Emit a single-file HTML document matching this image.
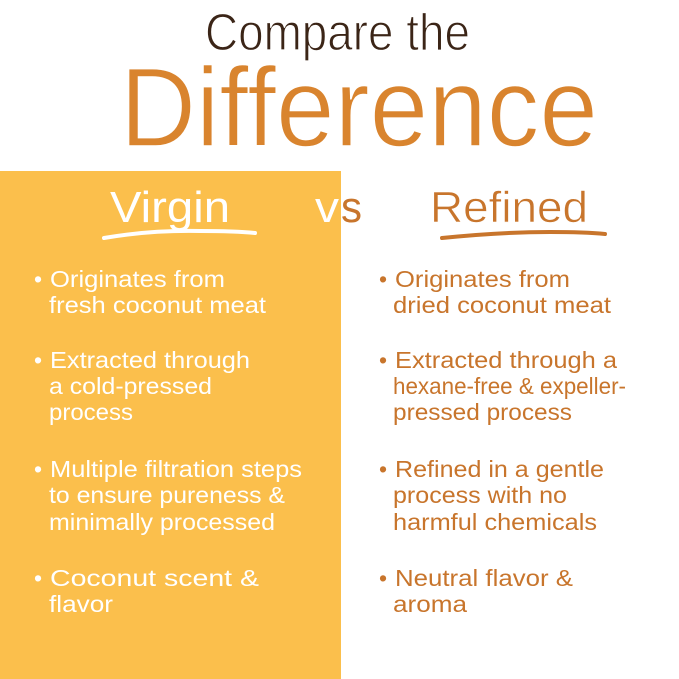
<!DOCTYPE html>
<html><head><meta charset="utf-8"><style>html,body{margin:0;padding:0;background:#fff}svg{display:block}</style></head>
<body>
<svg width="679" height="679" viewBox="0 0 679 679" xmlns="http://www.w3.org/2000/svg" font-family="Liberation Sans, sans-serif">
<rect x="0" y="171" width="341" height="508" fill="#fbbf4c"/>
<text x="205" y="50" font-size="52" fill="#3b2517" stroke="#fff" stroke-width="1.2" paint-order="normal" textLength="265" lengthAdjust="spacingAndGlyphs">Compare the</text>
<text x="120" y="146" font-size="112" fill="#d9842e" stroke="#fff" stroke-width="1.5" textLength="478" lengthAdjust="spacingAndGlyphs">Difference</text>
<text x="110" y="222" font-size="44" fill="#fff" textLength="120" lengthAdjust="spacingAndGlyphs">Virgin</text>
<text x="315" y="222" font-size="44" fill="#fff" textLength="24" lengthAdjust="spacingAndGlyphs">v</text>
<text x="341" y="222" font-size="44" fill="#c8752c" textLength="21" lengthAdjust="spacingAndGlyphs">s</text>
<text x="430" y="222" font-size="44" fill="#c8752c" stroke="#fff" stroke-width="0.6" textLength="158" lengthAdjust="spacingAndGlyphs">Refined</text>
<path d="M104 238 Q150 230 200 231 Q235 231 255 233" stroke="#fff" stroke-width="4" fill="none" stroke-linecap="round"/>
<path d="M442 238 Q500 232 550 232 Q585 232 605 234" stroke="#c8752c" stroke-width="4" fill="none" stroke-linecap="round"/>
<g font-size="23" fill="#fff">
<text x="34" y="287">•</text><text x="50" y="287" textLength="175" lengthAdjust="spacingAndGlyphs">Originates from</text>
<text x="49" y="313" textLength="217" lengthAdjust="spacingAndGlyphs">fresh coconut meat</text>
<text x="34" y="368">•</text><text x="50" y="368" textLength="200" lengthAdjust="spacingAndGlyphs">Extracted through</text>
<text x="49" y="394" textLength="163" lengthAdjust="spacingAndGlyphs">a cold-pressed</text>
<text x="49" y="420" textLength="84" lengthAdjust="spacingAndGlyphs">process</text>
<text x="34" y="477">•</text><text x="50" y="477" textLength="252" lengthAdjust="spacingAndGlyphs">Multiple filtration steps</text>
<text x="49" y="503" textLength="236" lengthAdjust="spacingAndGlyphs">to ensure pureness &amp;</text>
<text x="49" y="530" textLength="226" lengthAdjust="spacingAndGlyphs">minimally processed</text>
<text x="34" y="586">•</text><text x="50" y="586" textLength="209" lengthAdjust="spacingAndGlyphs">Coconut scent &amp;</text>
<text x="49" y="612" textLength="64" lengthAdjust="spacingAndGlyphs">flavor</text>
</g>
<g font-size="23" fill="#c8752c">
<text x="379" y="287">•</text><text x="395" y="287" textLength="175" lengthAdjust="spacingAndGlyphs">Originates from</text>
<text x="393" y="313" textLength="218" lengthAdjust="spacingAndGlyphs">dried coconut meat</text>
<text x="379" y="368">•</text><text x="395" y="368" textLength="222" lengthAdjust="spacingAndGlyphs">Extracted through a</text>
<text x="393" y="394" textLength="233" lengthAdjust="spacingAndGlyphs">hexane-free &amp; expeller-</text>
<text x="393" y="420" textLength="179" lengthAdjust="spacingAndGlyphs">pressed process</text>
<text x="379" y="477">•</text><text x="395" y="477" textLength="209" lengthAdjust="spacingAndGlyphs">Refined in a gentle</text>
<text x="393" y="503" textLength="174" lengthAdjust="spacingAndGlyphs">process with no</text>
<text x="393" y="530" textLength="204" lengthAdjust="spacingAndGlyphs">harmful chemicals</text>
<text x="379" y="586">•</text><text x="395" y="586" textLength="178" lengthAdjust="spacingAndGlyphs">Neutral flavor &amp;</text>
<text x="393" y="612" textLength="74" lengthAdjust="spacingAndGlyphs">aroma</text>
</g>
</svg>
</body></html>
